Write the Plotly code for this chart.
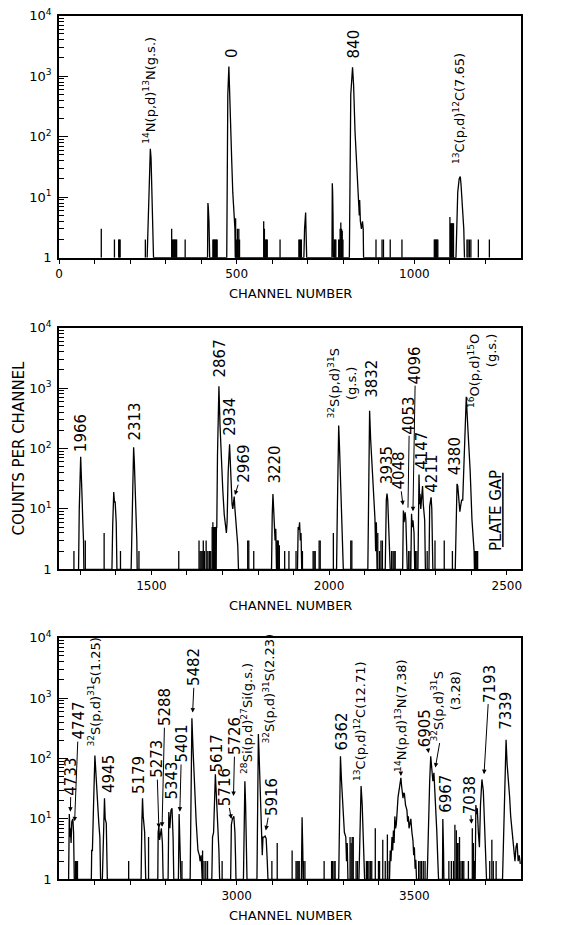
import plotly.graph_objects as go

# ---------------- data ----------------
# Spectrum outline vertices (channel, counts); counts of 1 = baseline
top_peaks = [
    (248, 1), (251, 4), (254, 20), (256, 50), (257, 63), (259, 45), (261, 18), (263, 6), (265, 2), (266, 1),
    (418, 1), (419, 8), (420, 7), (422, 4), (423, 2), (424, 1),
    (472, 1), (473, 180), (475, 500), (478, 1440), (480, 700), (483, 150), (486, 40), (489, 12), (491, 6),
    (493, 4), (495, 3), (496, 1),
    (689, 1), (691, 3), (694, 5.6), (695, 3), (697, 1),
    (768, 1), (769, 17), (770, 12), (771, 5), (772, 1),
    (817, 1), (819, 200), (821, 500), (826, 1400), (829, 700), (833, 120), (838, 25), (841, 11), (843, 7),
    (845, 5), (846, 9), (848, 4), (851, 3), (854, 4), (856, 3), (857, 1),
    (1117, 1), (1119, 5), (1122, 12), (1126, 20), (1129, 22), (1131, 17), (1134, 8), (1136, 6), (1139, 3), (1141, 1),
]
top_spikes = [
    (119, 3), (156, 2), (168, 2), (170, 2), (172, 2), (243, 2), (317, 3), (319, 2), (321, 2), (323, 2), (325, 2),
    (327, 2), (329, 2), (331, 2), (355, 2), (433, 2), (435, 2), (437, 2), (439, 2), (441, 2), (443, 2), (445, 2),
    (497, 4.5), (500, 2), (502, 3), (504, 2), (506, 3), (508, 2), (576, 4), (578, 3), (580, 2), (582, 2), (584, 2),
    (586, 2), (622, 2), (675, 2), (677, 2), (680, 2), (682, 2), (775, 2), (777, 2), (779, 2), (787, 2), (789, 2),
    (791, 3), (793, 3.8), (795, 3), (797, 2.8), (799, 2), (892, 2), (909, 2), (913, 2), (932, 2), (965, 2),
    (1056, 2), (1058, 2), (1060, 2), (1062, 2), (1064, 2), (1066, 2), (1100, 4.7), (1102, 3.7), (1104, 3.7),
    (1106, 3.7), (1108, 3.7), (1110, 3.7), (1148, 2), (1151, 2), (1155, 2), (1159, 2), (1180, 2), (1211, 2),
]

mid_peaks = [
    (1295, 1), (1297, 10), (1301, 73), (1303, 40), (1305, 15), (1307, 6), (1309, 3), (1310, 1),
    (1389, 1), (1391, 5), (1394, 19), (1396, 13), (1398, 13), (1401, 6), (1403, 1),
    (1443, 1), (1446, 15), (1450, 105), (1452, 60), (1455, 20), (1457, 8), (1459, 3), (1460, 1),
    (1682, 1), (1683, 5), (1684, 5), (1686, 80), (1690, 1070), (1693, 250), (1697, 60), (1701, 20), (1705, 8),
    (1709, 5), (1711, 4), (1713, 6), (1716, 40), (1720, 118), (1723, 35), (1727, 12), (1729, 10), (1731, 14),
    (1733, 16), (1735, 10), (1737, 7), (1740, 4), (1743, 2.5), (1745, 1),
    (1838, 1), (1840, 8), (1842, 17.6), (1844, 10), (1846, 5), (1848, 3), (1850, 4.7), (1852, 1),
    (1911, 1), (1913, 5), (1915, 4.5), (1917, 6), (1919, 3), (1921, 4), (1923, 1),
    (2021, 1), (2023, 8), (2027, 240), (2029, 120), (2032, 25), (2035, 8), (2038, 3), (2040, 1),
    (2109, 1), (2111, 30), (2114, 420), (2117, 140), (2121, 42), (2126, 14), (2129, 7), (2131, 2), (2133, 6), (2135, 1),
    (2158, 1), (2161, 14), (2163, 18), (2165, 14), (2167, 5), (2170, 3), (2172, 1),
    (2207, 1), (2209, 9.4), (2211, 6), (2214, 8.8), (2216, 6.5), (2218, 2), (2220, 1),
    (2230, 1), (2232, 8.3), (2234, 5), (2236, 6.5), (2239, 4), (2241, 1),
    (2250, 1), (2253, 37), (2255, 12), (2256, 17.6), (2258, 10), (2260, 17), (2263, 24), (2265, 12), (2267, 8),
    (2269, 6.5), (2271, 1),
    (2281, 1), (2283, 11), (2285, 14), (2287, 15.5), (2289, 10), (2291, 2), (2292, 1),
    (2355, 1), (2358, 17), (2360, 26), (2362, 24), (2365, 14), (2368, 9), (2370, 11), (2373, 14), (2376, 14),
    (2381, 100), (2386, 720), (2391, 190), (2397, 42), (2402, 6.6), (2405, 4), (2408, 2), (2409, 1),
]
mid_spikes = [
    (1282, 2), (1314, 3), (1367, 4), (1413, 2), (1465, 2), (1577, 2), (1634, 3), (1637, 2), (1640, 2), (1643, 2),
    (1646, 3), (1649, 2), (1654, 3), (1657, 2), (1662, 2), (1664, 2), (1667, 2), (1671, 5), (1673, 6), (1675, 5),
    (1677, 5), (1679, 5), (1681, 5), (1771, 3), (1774, 3), (1788, 2), (1853, 3), (1855, 3), (1857, 3), (1860, 2.5),
    (1875, 2), (1887, 2), (1907, 2), (1925, 2), (1955, 2), (1958, 2), (1961, 2), (1972, 3), (1975, 3), (2012, 4),
    (2061, 3), (2064, 3), (2137, 4), (2142, 2), (2146, 3), (2150, 3), (2176, 2), (2180, 2), (2183, 2), (2186, 2),
    (2224, 2), (2228, 2), (2243, 2), (2247, 2), (2276, 2), (2298, 3), (2324, 3), (2347, 2), (2410, 2), (2412, 2),
    (2414, 2), (2416, 2), (2418, 2),
]

bot_peaks = [
    (2527, 1), (2528, 4), (2529, 12), (2531, 5), (2532, 7), (2534, 4), (2536, 9), (2539, 10), (2541, 6), (2543, 1),
    (2591, 1), (2592, 3), (2594, 3), (2597, 15), (2601, 112), (2605, 44), (2609, 11.6), (2612, 8.5), (2615, 5), (2617, 1),
    (2622, 1), (2625, 6), (2628, 22), (2630, 10), (2633, 8.5), (2636, 1),
    (2731, 1), (2733, 8), (2735, 22), (2737, 11), (2741, 6), (2744, 1),
    (2778, 1), (2779, 6), (2781, 7.5), (2783, 4.5), (2786, 6.6), (2788, 7), (2791, 4), (2793, 1),
    (2807, 1), (2809, 13), (2812, 7), (2815, 14), (2818, 15), (2821, 5), (2823, 1),
    (2836, 1), (2838, 12), (2840, 5), (2842, 2), (2843, 1),
    (2869, 1), (2871, 30), (2874, 464), (2877, 150), (2882, 23), (2886, 9), (2891, 3), (2895, 2.5), (2897, 2),
    (2900, 2.5), (2903, 1),
    (2930, 1), (2932, 5), (2935, 6), (2940, 55), (2943, 23), (2947, 12), (2950, 3), (2952, 1),
    (2983, 1), (2985, 8), (2988, 10), (2992, 11), (2995, 6), (2997, 2), (2998, 1),
    (3019, 1), (3021, 10), (3023, 42), (3025, 18), (3027, 4), (3029, 1),
    (3057, 1), (3059, 40), (3061, 254), (3063, 120), (3066, 40), (3069, 10), (3072, 2.5), (3074, 5), (3077, 5),
    (3080, 5.2), (3083, 4.7), (3086, 2), (3088, 1),
    (3182, 1), (3184, 10.6), (3186, 3), (3187, 1),
    (3287, 1), (3289, 20), (3292, 109), (3295, 42), (3300, 10.6), (3303, 6), (3307, 5), (3309, 2), (3311, 4), (3313, 1),
    (3344, 1), (3346, 6), (3350, 35), (3353, 18), (3357, 4), (3359, 2), (3360, 1),
    (3430, 1), (3432, 3), (3434, 2), (3437, 5), (3439, 3), (3441, 6.4), (3443, 4), (3445, 11), (3447, 7), (3449, 8),
    (3451, 12), (3454, 23), (3458, 33), (3462, 48), (3464, 35), (3466, 29), (3468, 22), (3470, 27), (3472, 26),
    (3475, 17), (3477, 14), (3479, 14), (3481, 9), (3483, 11), (3485, 7), (3487, 8), (3490, 10), (3493, 6),
    (3496, 4.4), (3498, 2.5), (3500, 3.4), (3502, 1.5), (3504, 2.1), (3506, 1),
    (3536, 1), (3538, 3), (3540, 11), (3543, 42), (3546, 109), (3549, 62), (3552, 42), (3555, 58), (3557, 37),
    (3560, 18), (3563, 6.4), (3566, 2), (3568, 1),
    (3579, 1), (3580, 10), (3582, 3), (3583, 1),
    (3671, 1), (3673, 17), (3675, 12), (3677, 15), (3680, 6), (3683, 3.4), (3686, 17), (3690, 45), (3694, 29),
    (3697, 11), (3700, 4), (3703, 1),
    (3748, 1), (3751, 6), (3754, 42), (3758, 205), (3761, 80), (3765, 29), (3768, 23), (3771, 11), (3775, 6),
    (3779, 4), (3783, 2), (3786, 3.4), (3789, 4), (3792, 2), (3795, 2.5), (3798, 1.8),
]
bot_spikes = [
    (2546, 2), (2549, 2), (2552, 2), (2696, 2), (2752, 5), (2846, 2), (2904, 3), (2908, 2), (2913, 2), (2918, 2),
    (2959, 2), (3099, 2), (3114, 4), (3156, 3), (3167, 2), (3170, 2), (3173, 2), (3176, 2), (3188, 2), (3192, 2),
    (3246, 2), (3267, 2), (3270, 2), (3274, 2), (3277, 2), (3319, 5), (3322, 4), (3325, 5), (3328, 5), (3336, 2),
    (3340, 2), (3365, 2), (3368, 2), (3372, 2), (3376, 2), (3380, 2), (3390, 7), (3399, 2), (3402, 2), (3411, 4.5),
    (3418, 2), (3424, 5.5), (3429, 2), (3512, 2), (3516, 2), (3520, 2), (3525, 2), (3530, 2), (3597, 2), (3604, 2),
    (3610, 2), (3614, 8), (3618, 6.5), (3621, 4), (3623, 4), (3627, 5), (3631, 2), (3635, 2), (3639, 2), (3652, 2),
    (3663, 7), (3666, 4), (3669, 2), (3712, 2), (3718, 4.5), (3722, 2), (3730, 2),
]

# labels: (text, channel, log10 counts, arrow head or None)
top_labels = [
    ("<sup>14</sup>N(p,d)<sup>13</sup>N(g.s.)", 255, 2.77, None),
    ("0", 485, 3.39, None),
    ("840", 831, 3.53, None),
    ("<sup>13</sup>C(p,d)<sup>12</sup>C(7.65)", 1125, 2.47, None),
]
mid_labels = [
    ("1966", 1304, 2.25, None), ("2313", 1453, 2.44, None), ("2867", 1693, 3.49, None),
    ("2934", 1722, 2.53, None), ("2969", 1762, 1.74, (1735, 1.23)), ("3220", 1847, 1.73, None),
    ("<sup>32</sup>S(p,d)<sup>31</sup>S<br>(g.s.)", 2037, 3.08, None), ("3832", 2120, 3.15, None),
    ("3935", 2165, 1.72, None), ("4048", 2196, 1.63, (2208, 1.06)), ("4053", 2226, 2.55, (2222, 1.02)),
    ("4096", 2243, 3.38, (2236, 0.96)), ("4147", 2261, 1.96, None), ("4211", 2289, 1.58, None),
    ("4380", 2354, 1.87, None), ("<sup>16</sup>O(p,d)<sup>15</sup>O<br>(g.s.)", 2430, 3.28, None),
    ("PLATE GAP", 2468, 0.97, None),
]
bot_labels = [
    ("4733", 2534, 1.70, (2532, 1.12)), ("4747", 2555, 2.62, (2544, 0.96)),
    ("<sup>32</sup>S(p,d)<sup>31</sup>S(1.25)", 2600, 3.1, None), ("4945", 2639, 1.75, None),
    ("5179", 2727, 1.72, None), ("5273", 2775, 1.99, (2781, 0.85)), ("5288", 2798, 2.85, (2790, 0.87)),
    ("5343", 2819, 1.64, None), ("5401", 2845, 2.24, (2840, 1.12)), ("5482", 2882, 3.51, (2876, 2.76)),
    ("5617", 2944, 2.08, None), ("5716", 2969, 1.52, (2985, 1.0)), ("5726", 2995, 2.37, (2991, 1.38)),
    ("<sup>28</sup>Si(p,d)<sup>27</sup>Si(g.s.)", 3027, 2.66, None),
    ("<sup>32</sup>S(p,d)<sup>31</sup>S(2.23)", 3091, 3.16, None), ("5916", 3099, 1.36, (3082, 0.81)),
    ("6362", 3297, 2.45, None), ("<sup>13</sup>C(p,d)<sup>12</sup>C(12.71)", 3345, 2.61, None),
    ("<sup>14</sup>N(p,d)<sup>13</sup>N(7.38)", 3462, 2.72, (3462, 1.71)), ("6905", 3530, 2.5, (3540, 2.09)),
    ("<sup>32</sup>S(p,d)<sup>31</sup>S<br>(3.28)", 3589, 2.86, (3559, 1.85)), ("6967", 3587, 1.42, None),
    ("7038", 3655, 1.40, (3661, 0.92)), ("7193", 3711, 3.24, (3696, 1.74)), ("7339", 3758, 2.79, None),
]

x_ranges = [(0, 1300), (1240, 2540), (2500, 3800)]
x_tickvals = [[0, 500, 1000], [1500, 2000, 2500], [3000, 3500]]
y_tickvals = [1, 10, 100, 1000, 10000]
y_ticktext = ["1", "10<sup>1</sup>", "10<sup>2</sup>", "10<sup>3</sup>", "10<sup>4</sup>"]

# ---------------- layout geometry ----------------
W, H = 580, 925
X0, X1 = 59, 521
panel_px = [(15.7, 257.7), (327.7, 569.3), (637.7, 879.3)]
FONT = "DejaVu Sans"
LW = 1.3

fig = go.Figure()
annotations = []
shapes = []
layout_axes = {}

panels = [(top_peaks, top_spikes, top_labels), (mid_peaks, mid_spikes, mid_labels),
          (bot_peaks, bot_spikes, bot_labels)]

minor_y = [m * 10 ** e for e in range(4) for m in range(2, 10)]

for i, (peaks, spikes, labels) in enumerate(panels):
    n = "" if i == 0 else str(i + 1)
    xa, ya = "x" + n, "y" + n
    px = [p[0] for p in peaks]
    py = [p[1] for p in peaks]
    fig.add_trace(go.Scatter(x=px, y=py, mode="lines", line=dict(color="black", width=LW),
                             xaxis=xa, yaxis=ya, showlegend=False, hoverinfo="skip"))
    sx, sy = [], []
    for c, v in spikes:
        sx += [c, c, None]
        sy += [1, v, None]
    fig.add_trace(go.Scatter(x=sx, y=sy, mode="lines", line=dict(color="black", width=LW),
                             xaxis=xa, yaxis=ya, showlegend=False, hoverinfo="skip"))

    top, bot = panel_px[i]
    lo, hi = x_ranges[i]
    layout_axes["xaxis" + n] = dict(
        domain=[X0 / W, X1 / W], range=[lo, hi], anchor=ya,
        tickmode="array", tickvals=x_tickvals[i], ticktext=[str(v) for v in x_tickvals[i]],
        ticks="outside", ticklen=4, tickwidth=1, tickcolor="black",
        minor=dict(tickmode="array", tickvals=list(range(lo - lo % 100 + 100, hi, 100)),
                   ticks="outside", ticklen=4, tickwidth=1, tickcolor="black"),
        showline=True, linecolor="black", linewidth=1.6, mirror=True,
        showgrid=False, zeroline=False, automargin=False,
        tickfont=dict(family=FONT, size=12, color="black"),
    )
    layout_axes["yaxis" + n] = dict(
        domain=[1 - bot / H, 1 - top / H], type="log", range=[0, 4], anchor=xa,
        tickmode="array", tickvals=y_tickvals, ticktext=y_ticktext,
        ticks="inside", ticklen=9, tickwidth=1, tickcolor="black",
        minor=dict(tickmode="array", tickvals=minor_y, ticks="inside", ticklen=5, tickwidth=1,
                   tickcolor="black"),
        showline=True, linecolor="black", linewidth=1.6, mirror=True,
        showgrid=False, zeroline=False, automargin=False, ticklabelstandoff=3,
        tickfont=dict(family=FONT, size=13, color="black"),
    )
    # axis title
    annotations.append(dict(text="CHANNEL NUMBER", xref=xa + " domain", yref=ya + " domain", x=0.5, y=0,
                            yshift=-36, showarrow=False, xanchor="center", yanchor="middle",
                            font=dict(family=FONT, size=13, color="black")))
    for lab in labels:
        text, cx, cy, head = lab
        size = 13 if "(" in text else 15
        align = "right" if ("O(p" in text or "3.28" in text) else "center"
        a = dict(text=text, xref=xa, yref=ya, textangle=-90, xanchor="center", yanchor="middle",
                 align=align, font=dict(family=FONT, size=size, color="black"))
        if head is None:
            a.update(x=cx, y=cy, showarrow=False)
        else:
            a.update(x=head[0], y=head[1], ax=cx, ay=cy, axref=xa, ayref=ya, showarrow=True,
                     arrowhead=0 if text == "4053" else 2, arrowsize=0.9, arrowwidth=1,
                     arrowcolor="black")
        annotations.append(a)

# PLATE GAP underline
shapes.append(dict(type="line", xref="x2", yref="y2 domain", x0=2489, x1=2489, y0=0.37 / 4, y1=1.6 / 4,
                   line=dict(color="black", width=1.5)))

# y-axis title (middle panel)
annotations.append(dict(text="COUNTS PER CHANNEL", xref="paper", yref="paper", x=19 / W,
                        y=1 - (panel_px[1][0] + panel_px[1][1]) / 2 / H, textangle=-90, showarrow=False,
                        xanchor="center", yanchor="middle", font=dict(family=FONT, size=15, color="black")))

fig.update_layout(
    width=W, height=H, margin=dict(l=0, r=0, t=0, b=0),
    paper_bgcolor="white", plot_bgcolor="white", template="none",
    showlegend=False, annotations=annotations, shapes=shapes, **layout_axes,
)

fig.write_html("out.html", config={"displayModeBar": False},
               post_script="document.body.style.margin='0px';")
